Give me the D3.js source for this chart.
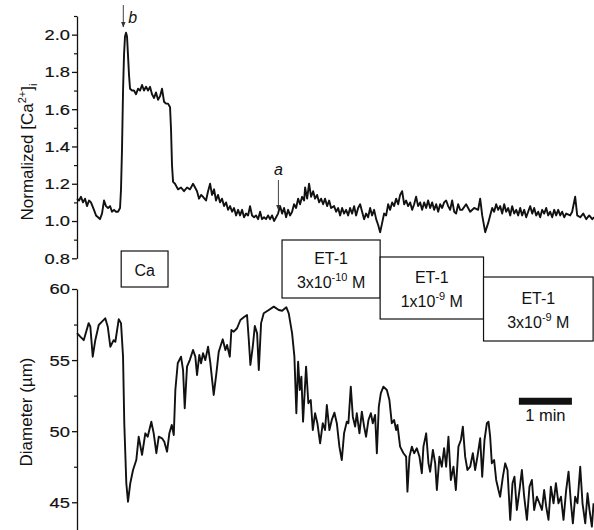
<!DOCTYPE html>
<html>
<head>
<meta charset="utf-8">
<script src="https://cdn.jsdelivr.net/npm/d3@7/dist/d3.min.js"></script>
<style>
body { margin: 0; background: #fff; }
text { font-family: "Liberation Sans", Arial, sans-serif; fill: #111; }
</style>
</head>
<body>
<div id="chart"></div>
<script>
// [time (s), normalized [Ca2+]i]
const caTrace = [[0,1.12],[2.3,1.11],[4.5,1.13],[6.8,1.10],[9.1,1.12],[11.3,1.08],[13.6,1.11],[15.8,1.10],[19.2,1.06],[21.5,1.03],[23.8,1.02],[26,1.01],[28.3,1.04],[30.6,1.11],[32.8,1.08],[35.1,1.07],[37.4,1.08],[39.6,1.05],[41.9,1.06],[44.1,1.05],[46.4,1.05],[48.7,1.07],[49.8,1.17],[50.9,1.38],[52.1,1.70],[53.2,1.89],[54.3,1.99],[55.5,2.01],[56.6,1.99],[57.7,1.89],[58.9,1.78],[60,1.71],[62.3,1.70],[64.5,1.70],[66.8,1.68],[69.1,1.71],[71.3,1.70],[73.6,1.73],[75.8,1.70],[78.1,1.72],[80.4,1.70],[82.6,1.72],[84.9,1.68],[87.2,1.66],[89.4,1.69],[91.7,1.65],[94,1.67],[96.2,1.71],[98.5,1.64],[100.7,1.63],[103,1.63],[105.3,1.61],[106.4,1.49],[107.5,1.30],[108.7,1.21],[110.9,1.20],[114.3,1.17],[117.7,1.18],[121.1,1.16],[124.5,1.18],[127.9,1.17],[131.3,1.20],[133.6,1.18],[135.8,1.16],[138.1,1.12],[140.4,1.14],[142.6,1.13],[146,1.11],[148.3,1.16],[150.6,1.20],[152.8,1.14],[155.1,1.17],[157.3,1.11],[159.6,1.14],[161.9,1.10],[164.1,1.12],[166.4,1.08],[168.7,1.10],[170.9,1.06],[173.2,1.08],[175.5,1.05],[177.7,1.07],[180,1.03],[182.3,1.06],[184.5,1.03],[186.8,1.06],[189,1.02],[191.3,1.04],[193.6,1.03],[195.8,1.08],[198.1,1.03],[200.4,1.02],[202.6,1.03],[204.9,1.01],[207.2,1.05],[209.4,1.01],[211.7,1.02],[213.9,1.01],[216.2,1.03],[218.5,1.01],[220.7,1.03],[223,1.00],[225.3,1.02],[227.5,1.04],[229.8,1.08],[232.1,1.04],[234.3,1.07],[236.6,1.02],[238.9,1.06],[241.1,1.03],[243.4,1.05],[245.6,1.09],[247.9,1.07],[250.2,1.12],[252.4,1.09],[254.7,1.13],[257,1.11],[258.1,1.18],[260.4,1.12],[262.6,1.20],[264.9,1.13],[267.2,1.16],[269.4,1.12],[271.7,1.14],[274,1.10],[276.2,1.12],[278.5,1.09],[280.7,1.12],[283,1.08],[285.3,1.11],[287.5,1.07],[290.9,1.08],[293.2,1.05],[295.5,1.07],[297.7,1.03],[300,1.07],[302.2,1.04],[304.5,1.06],[306.8,1.03],[309,1.07],[311.3,1.04],[313.6,1.08],[315.8,1.03],[318.1,1.07],[320.4,1.09],[322.6,1.05],[324.9,1.01],[327.1,1.04],[329.4,1.02],[331.7,1.07],[333.9,1.03],[336.2,1.06],[338.5,1.01],[340.7,0.98],[343,0.94],[345.3,0.99],[347.5,1.04],[349.8,1.03],[352.1,1.09],[354.3,1.06],[356.6,1.10],[358.8,1.08],[361.1,1.12],[363.4,1.09],[365.6,1.14],[367.9,1.16],[370.2,1.09],[372.4,1.11],[374.7,1.08],[377,1.10],[379.2,1.06],[381.5,1.09],[383.7,1.13],[386,1.08],[388.3,1.10],[390.5,1.06],[392.8,1.10],[395.1,1.07],[397.3,1.11],[399.6,1.07],[401.9,1.10],[404.1,1.06],[406.4,1.09],[408.7,1.05],[410.9,1.09],[413.2,1.07],[415.4,1.10],[417.7,1.11],[420,1.08],[422.2,1.06],[424.5,1.11],[426.8,1.05],[429,1.04],[431.3,1.09],[433.6,1.06],[435.8,1.06],[440.3,1.09],[444.9,1.05],[449.4,1.07],[453.9,1.06],[456.2,1.12],[458.5,1.03],[461.9,0.94],[465.3,0.99],[467.5,1.03],[469.8,1.07],[472,1.05],[474.3,1.09],[476.6,1.06],[478.8,1.08],[481.1,1.04],[483.4,1.09],[485.6,1.05],[487.9,1.07],[490.2,1.03],[492.4,1.08],[494.7,1.04],[497,1.06],[499.2,1.03],[501.5,1.07],[503.7,1.03],[506,1.06],[508.3,1.02],[510.5,1.05],[512.8,1.08],[515.1,1.04],[517.3,1.07],[519.6,1.03],[521.9,1.05],[524.1,1.02],[526.4,1.06],[528.6,1.04],[530.9,1.07],[533.2,1.03],[535.4,1.05],[537.7,1.02],[540,1.06],[542.2,1.03],[544.5,1.06],[546.8,1.03],[549,1.05],[551.3,1.02],[553.5,1.04],[558.1,1.03],[560.3,1.05],[563.7,1.13],[566,1.03],[569.4,1.02],[572.8,1.04],[576.2,1.01],[579.6,1.03],[583,1.01],[585.2,1.02]]

// [time (s), diameter (µm)]
const diameterTrace = [[0,56.9],[3.7,56.65],[7.6,56.4],[13.2,57.6],[15.1,57.35],[17.8,55.24],[20.7,56.4],[24.6,57.47],[28.3,57.7],[32,57.94],[34.8,57.35],[37.7,55.94],[41.5,56.4],[43.4,56.29],[47.2,57.87],[49.8,57.6],[52.1,55.24],[53.5,50.56],[55.8,46.34],[57.7,45.04],[60.3,46.34],[63.4,47.27],[67.1,47.97],[69.8,49.61],[73.6,48.33],[77.3,49.85],[80,49.61],[84.1,50.67],[86.8,49.85],[89.8,48.45],[92.5,49.61],[96.2,49.5],[98.8,49.26],[101.9,48.56],[104.5,49.85],[107.2,50.44],[109.5,49.73],[111.3,52.9],[114,54.78],[117.7,55.24],[120,54.3],[121.9,51.61],[124.5,54.54],[127.6,55.0],[131.3,55.71],[133.9,55.24],[135.8,53.95],[138.4,55.36],[140.4,54.78],[142.6,55.48],[145.2,55.0],[148.3,55.94],[150.9,54.78],[154.7,52.55],[157.7,54.07],[160.4,55.59],[164.9,56.46],[167.9,55.71],[169.8,56.06],[172.9,55.24],[174.7,57.12],[177.4,57.0],[181.1,57.24],[184.9,57.82],[188.7,58.01],[192.4,58.17],[194.4,56.41],[196.2,54.66],[198.9,55.94],[201.2,57.4],[203.8,56.88],[205.7,54.3],[208.3,57.6],[211.3,58.29],[217,58.52],[222.7,58.76],[228.3,58.52],[232.1,58.47],[236.9,58.71],[239.6,58.29],[243.4,56.88],[246,55.24],[248.2,51.26],[250.2,54.89],[252.1,52.9],[253.9,53.83],[255.8,50.67],[259.2,54.54],[261.8,51.96],[264.5,52.19],[266.8,50.08],[269.4,51.26],[272,50.56],[275.1,49.15],[278.1,50.56],[280.7,50.08],[282.7,51.84],[285.6,50.08],[288.3,50.79],[291.3,51.3],[294,50.56],[296.9,48.91],[299.6,47.97],[302.2,49.85],[305.3,50.67],[307.1,50.56],[309.8,53.13],[312.1,51.02],[314.7,50.32],[316.6,51.26],[319.6,49.85],[322.3,51.37],[324.9,50.32],[327.1,49.61],[329.8,50.79],[332.5,51.26],[334.7,50.56],[337.3,51.14],[339.3,48.45],[341.5,51.72],[343.8,52.67],[346.7,53.13],[350.6,52.9],[353.5,52.19],[356.2,50.56],[358.8,50.79],[361.1,50.08],[362.6,50.44],[365.6,48.91],[369.4,48.45],[372.4,48.21],[373.9,45.75],[376.2,48.21],[378.9,48.91],[381.5,48.45],[384.5,48.8],[387.5,48.21],[390.2,47.04],[392,48.91],[395.1,49.85],[397.7,47.74],[399.6,47.15],[402.7,48.68],[405.3,47.74],[407.2,45.86],[410.1,48.21],[412.8,47.5],[415.4,48.8],[417.7,47.5],[420.3,49.61],[423,46.57],[426,47.5],[428.7,45.86],[431.6,48.91],[434.4,49.38],[436.6,50.32],[439.2,48.21],[441.8,47.27],[444.9,47.5],[447.9,48.45],[450.5,47.27],[453.1,48.21],[456.2,49.5],[458.5,46.8],[461.1,49.38],[463.8,50.56],[465.6,50.67],[467.5,49.61],[469.4,47.74],[472,47.97],[474.3,46.57],[476.9,45.86],[478.8,45.39],[481.9,46.8],[484.5,47.74],[487.1,47.27],[490.2,43.76],[492.8,46.34],[495,46.8],[497.7,44.46],[500.7,45.86],[503.4,47.27],[506,45.39],[509.1,43.76],[512,46.1],[514.7,46.57],[517.3,44.46],[520.4,45.39],[523.3,44.93],[526.1,44.46],[528.6,45.86],[530.9,44.69],[533.5,43.76],[536.2,46.1],[539.2,44.93],[541.9,46.34],[544.8,44.93],[547.6,45.39],[550.5,43.76],[553.5,45.86],[556.2,47.15],[558.9,44.93],[561.1,43.52],[563.7,45.39],[566.3,44.93],[569.4,47.5],[572,44.93],[575.1,43.52],[577.7,45.63],[579.9,44.46],[582.6,43.28],[584.5,44.93]]

const caTicks = [0.8, 1.0, 1.2, 1.4, 1.6, 1.8, 2.0]
const caMinorTicks = [0.9, 1.1, 1.3, 1.5, 1.7, 1.9, 2.1]
const diameterTicks = [45, 50, 55, 60]
const diameterMinorTicks = [47.5, 52.5, 57.5]

// application periods (s)
const treatments = [
    {name: "Ca", conc: null, start: 50, end: 103},
    {name: "ET-1", conc: ["3x10", "-10", " M"], start: 232, end: 343},
    {name: "ET-1", conc: ["1x10", "-9", " M"], start: 343, end: 460},
    {name: "ET-1", conc: ["3x10", "-9", " M"], start: 460, end: 584}
]
const markers = [{label: "b", t: 52.4}, {label: "a", t: 227.9}]
const scaleBar = {start: 500, length: 60, level: 52.1, label: "1 min"}

const width = 594, height = 530

const svg = d3.select("#chart")
    .append("svg")
    .attr("width", width)
    .attr("height", height)

const x = d3.scaleLinear().domain([0, 585]).range([77, 594])
const yCa = d3.scaleLinear().domain([0.8, 2.1]).range([258.3, 16])
const yDia = d3.scaleLinear().domain([43.05, 60]).range([530, 289])

function drawAxis(scale, ticks, minor, fmt) {
    const g = svg.append("g").attr("transform", "translate(77,0)")
    g.call(d3.axisLeft(scale).tickValues(ticks).tickSize(5).tickSizeOuter(0).tickPadding(1).tickFormat(fmt))
    g.select(".domain").attr("stroke", "#111").attr("stroke-width", 1.3)
    g.selectAll(".tick line").attr("stroke", "#111").attr("stroke-width", 1.3)
    g.selectAll(".tick text")
        .attr("font-size", 15.5)
        .attr("font-family", "Liberation Sans, Arial, sans-serif")
        .attr("fill", "#111")
        .attr("stroke", "#111")
        .attr("stroke-width", 0.2)
        .attr("transform", "scale(1.18,1)")
    const m = svg.append("g").attr("transform", "translate(77,0)")
    m.call(d3.axisLeft(scale).tickValues(minor).tickSize(3).tickFormat(""))
    m.select(".domain").remove()
    m.selectAll(".tick line").attr("stroke", "#111").attr("stroke-width", 1.2)
}

drawAxis(yCa, caTicks, caMinorTicks, d3.format(".1f"))
drawAxis(yDia, diameterTicks, diameterMinorTicks, d3.format("d"))

const caLine = d3.line().x(d => x(d[0])).y(d => yCa(d[1]))
const diaLine = d3.line().x(d => x(d[0])).y(d => yDia(d[1]))

svg.append("path")
    .datum(caTrace)
    .attr("fill", "none")
    .attr("stroke", "#111")
    .attr("stroke-width", 1.9)
    .attr("stroke-linejoin", "round")
    .attr("d", caLine)

svg.append("path")
    .datum(diameterTrace)
    .attr("fill", "none")
    .attr("stroke", "#111")
    .attr("stroke-width", 1.9)
    .attr("stroke-linejoin", "round")
    .attr("d", diaLine)

// axis titles
const caTitle = svg.append("text")
    .attr("transform", `translate(33,${152}) rotate(-90)`)
    .attr("text-anchor", "middle")
    .attr("font-size", 17)
caTitle.append("tspan").text("Normalized [Ca")
caTitle.append("tspan").attr("font-size", 11).attr("dy", -7).text("2+")
caTitle.append("tspan").attr("dy", 7).text("]")
caTitle.append("tspan").attr("font-size", 11).attr("dy", 4).text("i")

svg.append("text")
    .attr("transform", `translate(32,${412}) rotate(-90)`)
    .attr("text-anchor", "middle")
    .attr("font-size", 17)
    .text("Diameter (\u00b5m)")

// treatment boxes
const boxRows = [[251, 287], [240, 298], [257, 319], [277, 341]]
treatments.forEach((d, i) => {
    const [top, bottom] = boxRows[i]
    const x0 = x(d.start), x1 = x(d.end)
    const cx = (x0 + x1) / 2, cy = (top + bottom) / 2
    svg.append("rect")
        .attr("x", x0).attr("y", top)
        .attr("width", x1 - x0).attr("height", bottom - top)
        .attr("fill", "#fff")
        .attr("stroke", "#111")
        .attr("stroke-width", 1.2)
    if (!d.conc) {
        svg.append("text").attr("x", cx).attr("y", cy + 7)
            .attr("text-anchor", "middle").attr("font-size", 16).text(d.name)
    } else {
        svg.append("text").attr("x", cx).attr("y", cy - 5)
            .attr("text-anchor", "middle").attr("font-size", 16).text(d.name)
        const t = svg.append("text").attr("x", cx).attr("y", cy + 19)
            .attr("text-anchor", "middle").attr("font-size", 16)
        t.append("tspan").text(d.conc[0])
        t.append("tspan").attr("font-size", 11).attr("dy", -7).text(d.conc[1])
        t.append("tspan").attr("dy", 7).text(d.conc[2])
    }
})

// arrows
svg.append("defs").append("marker")
    .attr("id", "head")
    .attr("viewBox", "0 0 10 10")
    .attr("refX", 9).attr("refY", 5)
    .attr("markerWidth", 6).attr("markerHeight", 6)
    .attr("orient", "auto")
    .append("path").attr("d", "M0,1 L10,5 L0,9 Z").attr("fill", "#333")

const bx = x(markers[0].t)
svg.append("line").attr("x1", bx).attr("x2", bx).attr("y1", 5).attr("y2", 27)
    .attr("stroke", "#444").attr("stroke-width", 1).attr("marker-end", "url(#head)")
svg.append("text").attr("x", bx + 5).attr("y", 23)
    .attr("font-size", 16).attr("font-style", "italic").text(markers[0].label)

const ax = x(markers[1].t)
svg.append("line").attr("x1", ax).attr("x2", ax).attr("y1", 180).attr("y2", 210)
    .attr("stroke", "#444").attr("stroke-width", 1).attr("marker-end", "url(#head)")
svg.append("text").attr("x", ax).attr("y", 175).attr("text-anchor", "middle")
    .attr("font-size", 16).attr("font-style", "italic").text(markers[1].label)

// scale bar
const sy = yDia(scaleBar.level)
svg.append("line")
    .attr("x1", x(scaleBar.start)).attr("x2", x(scaleBar.start + scaleBar.length))
    .attr("y1", sy).attr("y2", sy)
    .attr("stroke", "#111").attr("stroke-width", 7)
svg.append("text")
    .attr("x", x(scaleBar.start + scaleBar.length / 2)).attr("y", sy + 20)
    .attr("text-anchor", "middle").attr("font-size", 16.5)
    .text(scaleBar.label)
</script>
</body>
</html>
